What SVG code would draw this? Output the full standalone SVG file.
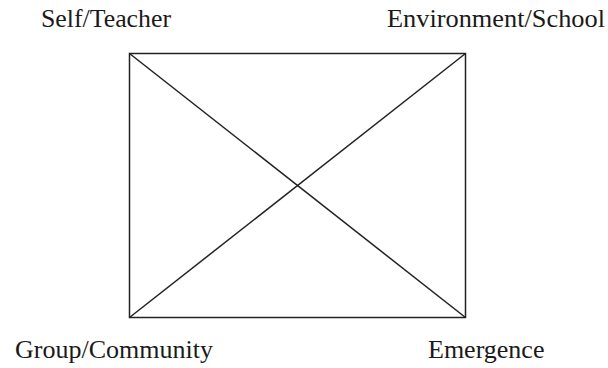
<svg xmlns="http://www.w3.org/2000/svg" width="608" height="368" viewBox="0 0 608 368">
<style>
.lbl{font-family:"Liberation Serif","Times New Roman",serif;font-size:26px;fill:#1a1a1a}
.ln{stroke:#222;stroke-width:1.5;fill:none}
</style>
<rect width="608" height="368" fill="#fff"/>
<g id="box"><rect class="ln" x="129.5" y="53.5" width="336" height="264"/></g>
<g id="connectors">
<line class="ln" x1="129.5" y1="53.5" x2="465.5" y2="317.5"/>
<line class="ln" x1="465.5" y1="53.5" x2="129.5" y2="317.5"/>
</g>
<g id="self"><text class="lbl" x="41" y="27" textLength="130" lengthAdjust="spacingAndGlyphs">Self/Teacher</text></g>
<g id="env"><text class="lbl" x="387" y="27" textLength="218" lengthAdjust="spacingAndGlyphs">Environment/School</text></g>
<g id="group"><text class="lbl" x="15" y="358">Group/Community</text></g>
<g id="emergence"><text class="lbl" x="428" y="358">Emergence</text></g>
</svg>
